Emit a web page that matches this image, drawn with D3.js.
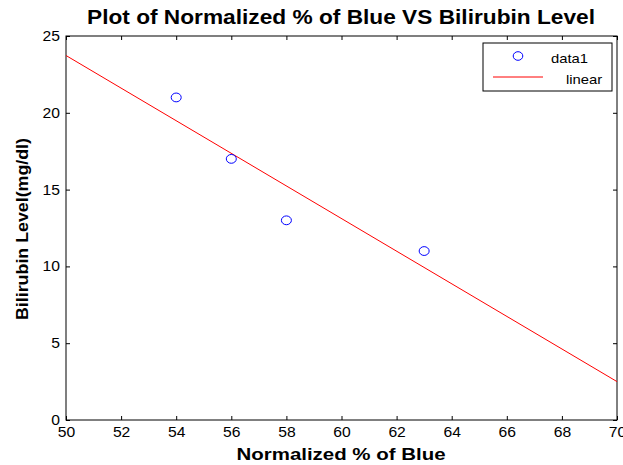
<!DOCTYPE html>
<html>
<head>
<meta charset="utf-8">
<script src="https://cdn.jsdelivr.net/npm/d3@7"></script>
<style>
  body { margin: 0; background: #fff; }
  text { font-family: "Liberation Sans", Arial, sans-serif; }
</style>
</head>
<body>
<div id="chart"></div>
<script>
// measured points
var blueX = [54, 56, 58, 63];
var bilirubin = [21, 17, 13, 11];
// fitted line, end points
var fitX = [50, 70];
var fitY = [23.73, 2.5];
var xTicks = [50, 52, 54, 56, 58, 60, 62, 64, 66, 68, 70];
var yTicks = [0, 5, 10, 15, 20, 25];

var width = 623, height = 465;
var margin = {left: 66, right: 6, top: 36, bottom: 45};

var svg = d3.select("#chart").append("svg")
    .attr("width", width)
    .attr("height", height);

var x = d3.scaleLinear().domain([50, 70]).range([margin.left, width - margin.right]);
var y = d3.scaleLinear().domain([0, 25]).range([height - margin.bottom, margin.top]);

var tickLen = 4;

// widen a text horizontally
function widen(sel, k) {
  sel.each(function () {
    var w = this.getComputedTextLength();
    d3.select(this).attr("textLength", w * k).attr("lengthAdjust", "spacingAndGlyphs");
  });
}

// box
svg.append("rect")
    .attr("x", x(50)).attr("y", y(25))
    .attr("width", x(70) - x(50)).attr("height", y(0) - y(25))
    .attr("fill", "none").attr("stroke", "#000").attr("stroke-width", 1);

// axes with inward ticks
var xAxis = svg.append("g")
    .attr("transform", "translate(0," + y(0) + ")")
    .call(d3.axisBottom(x).tickValues(xTicks).tickSize(-tickLen).tickPadding(7).tickFormat(d3.format("d")));
var xTop = svg.append("g")
    .attr("transform", "translate(0," + y(25) + ")")
    .call(d3.axisTop(x).tickValues(xTicks).tickSize(-tickLen).tickFormat(""));
var yAxis = svg.append("g")
    .attr("transform", "translate(" + x(50) + ",0)")
    .call(d3.axisLeft(y).tickValues(yTicks).tickSize(-tickLen).tickPadding(6));
var yRight = svg.append("g")
    .attr("transform", "translate(" + x(70) + ",0)")
    .call(d3.axisRight(y).tickValues(yTicks).tickSize(-tickLen).tickFormat(""));

[xAxis, xTop, yAxis, yRight].forEach(function (g) {
  g.select(".domain").remove();
  g.selectAll("line").attr("stroke", "#000");
  g.selectAll("text")
    .attr("font-size", 14)
    .attr("fill", "#000")
    .style("font-family", "'Liberation Sans', Arial, sans-serif");
});
widen(xAxis.selectAll("text"), 1.12);
widen(yAxis.selectAll("text"), 1.12);

// fit line
var line = d3.line()
    .x(function (d) { return x(d[0]); })
    .y(function (d) { return y(d[1]); });
svg.append("path")
    .datum(d3.zip(fitX, fitY))
    .attr("d", line)
    .attr("fill", "none")
    .attr("stroke", "#ff0000")
    .attr("stroke-width", 1);

// data markers
svg.selectAll("ellipse.pt")
    .data(d3.zip(blueX, bilirubin))
    .enter().append("ellipse")
    .attr("class", "pt")
    .attr("cx", function (d) { return x(d[0]); })
    .attr("cy", function (d) { return y(d[1]); })
    .attr("rx", 5)
    .attr("ry", 4.4)
    .attr("fill", "none")
    .attr("stroke", "#0000ff")
    .attr("stroke-width", 1);

// title and labels
svg.append("text")
    .attr("x", 341).attr("y", 24)
    .attr("text-anchor", "middle")
    .attr("font-size", 21).attr("font-weight", "bold")
    .attr("textLength", 508).attr("lengthAdjust", "spacingAndGlyphs")
    .text("Plot of Normalized % of Blue VS Bilirubin Level");

svg.append("text")
    .attr("x", 341).attr("y", 460)
    .attr("text-anchor", "middle")
    .attr("font-size", 16).attr("font-weight", "bold")
    .attr("textLength", 209).attr("lengthAdjust", "spacingAndGlyphs")
    .text("Normalized % of Blue");

svg.append("text")
    .attr("transform", "translate(28,229) rotate(-90)")
    .attr("text-anchor", "middle")
    .attr("font-size", 16).attr("font-weight", "bold")
    .attr("textLength", 182).attr("lengthAdjust", "spacingAndGlyphs")
    .text("Bilirubin Level(mg/dl)");

// legend
var lg = svg.append("g").attr("transform", "translate(483,43)");
lg.append("rect")
    .attr("width", 129).attr("height", 48)
    .attr("fill", "#fff").attr("stroke", "#000").attr("stroke-width", 1);
lg.append("ellipse")
    .attr("cx", 35).attr("cy", 13).attr("rx", 4.8).attr("ry", 4.3)
    .attr("fill", "none").attr("stroke", "#0000ff");
var t1 = lg.append("text")
    .attr("x", 68).attr("y", 20).attr("font-size", 13)
    .text("data1");
lg.append("line")
    .attr("x1", 10).attr("x2", 60).attr("y1", 34).attr("y2", 34)
    .attr("stroke", "#ff0000");
var t2 = lg.append("text")
    .attr("x", 83).attr("y", 41).attr("font-size", 13)
    .text("linear");
widen(t1, 1.14);
widen(t2, 1.14);
</script>
</body>
</html>
